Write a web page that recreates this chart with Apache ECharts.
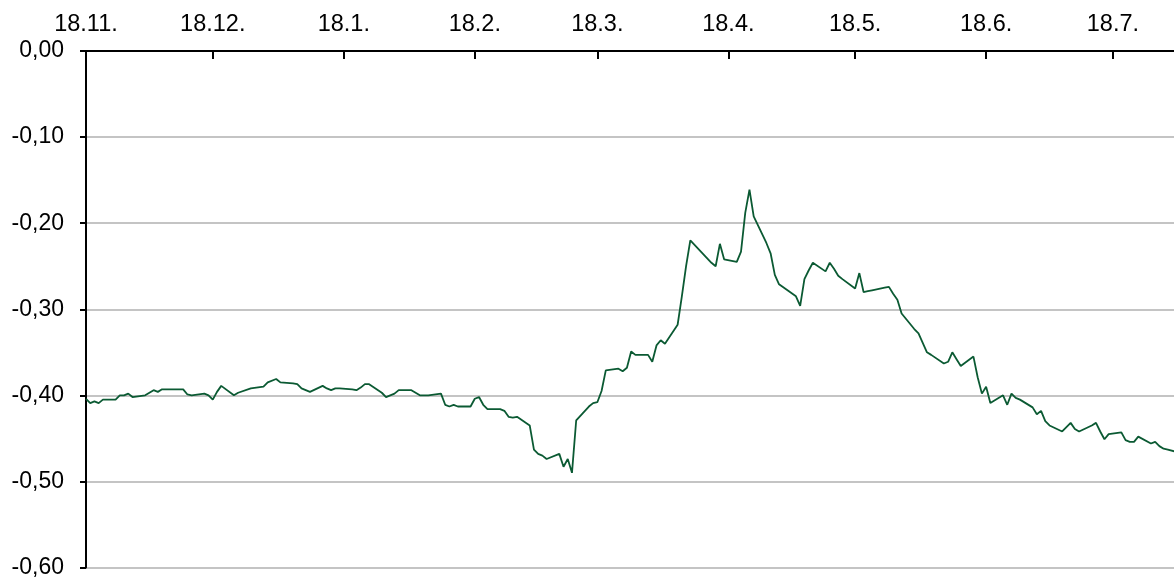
<!DOCTYPE html>
<html>
<head>
<meta charset="utf-8">
<script src="https://cdn.jsdelivr.net/npm/echarts@6/dist/echarts.min.js"></script>
<style>
html,body{margin:0;padding:0;background:#fff;}
#chart{width:1174px;height:579px;}
</style>
</head>
<body>
<div id="chart"></div>
<script>
// ---- data ----
const dates = [
'2019-11-18','2019-11-19','2019-11-20','2019-11-21','2019-11-22',
'2019-11-25','2019-11-26','2019-11-27','2019-11-28','2019-11-29',
'2019-12-02','2019-12-03','2019-12-04','2019-12-05','2019-12-06',
'2019-12-09','2019-12-10','2019-12-11','2019-12-12','2019-12-13',
'2019-12-16','2019-12-17','2019-12-18','2019-12-19','2019-12-20',
'2019-12-23','2019-12-24','2019-12-27',
'2019-12-30','2019-12-31','2020-01-02','2020-01-03',
'2020-01-06','2020-01-07','2020-01-08','2020-01-09','2020-01-10',
'2020-01-13','2020-01-14','2020-01-15','2020-01-16','2020-01-17',
'2020-01-20','2020-01-21','2020-01-22','2020-01-23','2020-01-24',
'2020-01-27','2020-01-28','2020-01-29','2020-01-30','2020-01-31',
'2020-02-03','2020-02-04','2020-02-05','2020-02-06','2020-02-07',
'2020-02-10','2020-02-11','2020-02-12','2020-02-13','2020-02-14',
'2020-02-17','2020-02-18','2020-02-19','2020-02-20','2020-02-21',
'2020-02-24','2020-02-25','2020-02-26','2020-02-27','2020-02-28',
'2020-03-02','2020-03-03','2020-03-04','2020-03-05','2020-03-06',
'2020-03-09','2020-03-10','2020-03-11','2020-03-12','2020-03-13',
'2020-03-16','2020-03-17','2020-03-18','2020-03-19','2020-03-20',
'2020-03-23','2020-03-24','2020-03-25','2020-03-26','2020-03-27',
'2020-03-30','2020-03-31','2020-04-01','2020-04-02','2020-04-03',
'2020-04-06','2020-04-07','2020-04-08','2020-04-09',
'2020-04-14','2020-04-15','2020-04-16','2020-04-17',
'2020-04-20','2020-04-21','2020-04-22','2020-04-23','2020-04-24',
'2020-04-27','2020-04-28','2020-04-29','2020-04-30',
'2020-05-04','2020-05-05','2020-05-06','2020-05-07','2020-05-08',
'2020-05-11','2020-05-12','2020-05-13','2020-05-14','2020-05-15',
'2020-05-18','2020-05-19','2020-05-20','2020-05-21','2020-05-22',
'2020-05-25','2020-05-26','2020-05-27','2020-05-28','2020-05-29',
'2020-06-01','2020-06-02','2020-06-03','2020-06-04','2020-06-05',
'2020-06-08','2020-06-09','2020-06-10','2020-06-11','2020-06-12',
'2020-06-15','2020-06-16','2020-06-17','2020-06-18','2020-06-19',
'2020-06-22','2020-06-23','2020-06-24','2020-06-25','2020-06-26',
'2020-06-29','2020-06-30','2020-07-01','2020-07-02','2020-07-03',
'2020-07-06','2020-07-07','2020-07-08','2020-07-09','2020-07-10',
'2020-07-13','2020-07-14','2020-07-15','2020-07-16','2020-07-17',
'2020-07-20','2020-07-21','2020-07-22','2020-07-23','2020-07-24',
'2020-07-27','2020-07-28','2020-07-29','2020-07-30','2020-07-31',
'2020-08-03'
];
const rates = [
-0.404,-0.409,-0.407,-0.409,-0.405,
-0.405,-0.400,-0.400,-0.398,-0.402,
-0.400,-0.397,-0.394,-0.396,-0.393,
-0.393,-0.393,-0.393,-0.399,-0.400,
-0.398,-0.400,-0.405,-0.396,-0.389,
-0.400,-0.397,-0.392,
-0.390,-0.385,-0.381,-0.385,
-0.386,-0.387,-0.392,-0.394,-0.396,
-0.389,-0.392,-0.394,-0.392,-0.392,
-0.393,-0.394,-0.391,-0.387,-0.387,
-0.397,-0.402,-0.400,-0.398,-0.394,
-0.394,-0.397,-0.400,-0.400,-0.400,
-0.398,-0.411,-0.413,-0.411,-0.413,
-0.413,-0.404,-0.402,-0.411,-0.416,
-0.416,-0.418,-0.425,-0.426,-0.425,
-0.435,-0.463,-0.468,-0.470,-0.474,
-0.468,-0.483,-0.474,-0.490,-0.429,
-0.413,-0.409,-0.408,-0.395,-0.371,
-0.369,-0.372,-0.368,-0.349,-0.353,
-0.353,-0.361,-0.342,-0.336,-0.340,
-0.318,-0.285,-0.250,-0.220,
-0.246,-0.250,-0.224,-0.242,
-0.245,-0.233,-0.188,-0.161,-0.192,
-0.223,-0.235,-0.260,-0.271,
-0.285,-0.296,-0.265,-0.255,-0.246,
-0.256,-0.246,-0.253,-0.261,-0.265,
-0.276,-0.258,-0.280,-0.279,-0.278,
-0.275,-0.274,-0.282,-0.289,-0.305,
-0.323,-0.328,-0.339,-0.350,-0.353,
-0.363,-0.361,-0.350,-0.358,-0.366,
-0.355,-0.379,-0.398,-0.390,-0.409,
-0.400,-0.411,-0.398,-0.403,-0.405,
-0.414,-0.422,-0.418,-0.430,-0.435,
-0.442,-0.437,-0.432,-0.439,-0.442,
-0.435,-0.432,-0.442,-0.451,-0.445,
-0.443,-0.452,-0.454,-0.454,-0.448,
-0.456,-0.454,-0.459,-0.462,-0.463,
-0.467
];
const xTickDates = ['2019-11-18','2019-12-18','2020-01-18','2020-02-18','2020-03-18','2020-04-18','2020-05-18','2020-06-18','2020-07-18'];
const xMinDate = '2019-11-18';
const xMaxDate = '2020-08-01T11:00';
const yMin = -0.6, yMax = 0, yStep = 0.1;

// ---- helpers ----
function ts(s){
  const p = s.split('T');
  const d = p[0].split('-').map(Number);
  let h = 0, m = 0;
  if (p[1]) { const t = p[1].split(':').map(Number); h = t[0]; m = t[1]; }
  return Date.UTC(d[0], d[1]-1, d[2], h, m);
}
const tickTs = xTickDates.map(ts);
const seriesData = dates.map((d,i)=>[ts(d), rates[i]]);
const FONT = '"Liberation Sans", Arial, sans-serif';

const chart = echarts.init(document.getElementById('chart'), null, {renderer:'canvas'});
chart.setOption({
  animation:false,
  backgroundColor:'#fff',
  grid:{left:86, right:0, top:51, bottom:11},
  xAxis:{
    type:'value', position:'top', min:ts(xMinDate), max:ts(xMaxDate), scale:true,
    axisLine:{show:true, onZero:false, lineStyle:{color:'#000', width:2}},
    axisTick:{show:true, inside:true, length:8, customValues:tickTs, lineStyle:{color:'#000', width:2}},
    axisLabel:{customValues:tickTs, color:'#000', fontSize:23.5, fontFamily:FONT, margin:14,
      formatter:function(v){ const d=new Date(v); return d.getUTCDate()+'.'+(d.getUTCMonth()+1)+'.'; }},
    splitLine:{show:false}
  },
  yAxis:{
    type:'value', min:yMin, max:yMax, interval:yStep,
    axisLine:{show:true, onZero:false, lineStyle:{color:'#000', width:2}},
    axisTick:{show:true, length:6, lineStyle:{color:'#000', width:2}},
    axisLabel:{color:'#000', fontSize:23, fontFamily:FONT, margin:22, padding:[6,0,0,0],
      formatter:function(v){ return v.toFixed(2).replace('.', ','); }},
    splitLine:{show:true, lineStyle:{color:'#c4c4c4', width:2}}
  },
  series:[{
    type:'line', data:seriesData, symbol:'none', smooth:false,
    lineStyle:{color:'#0b5a33', width:1.8}
  }]
});
</script>
</body>
</html>
